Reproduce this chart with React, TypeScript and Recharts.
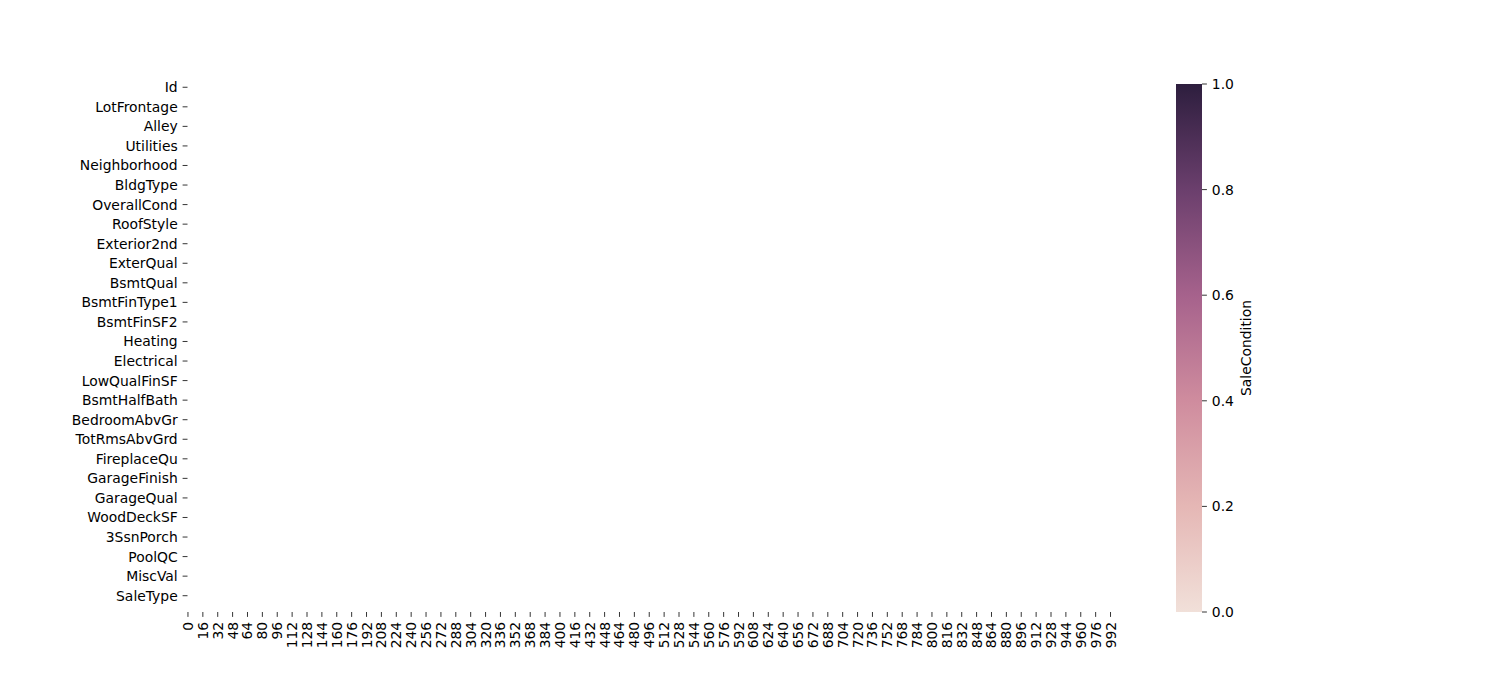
import React from "react";
import {
  ScatterChart,
  Scatter,
  XAxis,
  YAxis,
  BarChart,
  Bar,
} from "recharts";

// row labels shown on the y axis (every third column of the frame)
const rowLabels = [
  "Id", "LotFrontage", "Alley", "Utilities", "Neighborhood", "BldgType",
  "OverallCond", "RoofStyle", "Exterior2nd", "ExterQual", "BsmtQual",
  "BsmtFinType1", "BsmtFinSF2", "Heating", "Electrical", "LowQualFinSF",
  "BsmtHalfBath", "BedroomAbvGr", "TotRmsAbvGrd", "FireplaceQu",
  "GarageFinish", "GarageQual", "WoodDeckSF", "3SsnPorch", "PoolQC",
  "MiscVal", "SaleType",
];
const labelStep = 3;
const rowCount = 81;
const colCount = 1000;

// x tick labels (row index of the frame)
const colTicks = [
  0, 16, 32, 48, 64, 80, 96, 112, 128, 144, 160, 176, 192, 208, 224, 240,
  256, 272, 288, 304, 320, 336, 352, 368, 384, 400, 416, 432, 448, 464, 480,
  496, 512, 528, 544, 560, 576, 592, 608, 624, 640, 656, 672, 688, 704, 720,
  736, 752, 768, 784, 800, 816, 832, 848, 864, 880, 896, 912, 928, 944, 960,
  976, 992,
];

// missing-value cells (none flagged)
const missingCells: { col: number; row: number }[] = [];

const colorbarTicks = [0, 0.2, 0.4, 0.6, 0.8, 1.0];
const colorbarStops = [
  { offset: 0, color: "#f1e0d9" },
  { offset: 0.2, color: "#e5b7b5" },
  { offset: 0.4, color: "#cf8c9e" },
  { offset: 0.6, color: "#a6628c" },
  { offset: 0.8, color: "#6b3f6d" },
  { offset: 1, color: "#2d1e3e" },
];
const colorbarData = [{ name: "SaleCondition", value: 1 }];

const font = "'DejaVu Sans', sans-serif";
const fs = 13.9;

const XTick = (props: any) => {
  const { x, y, payload } = props;
  return (
    <text
      x={x}
      y={y}
      transform={`rotate(-90, ${x}, ${y})`}
      textAnchor="end"
      dominantBaseline="central"
      fontFamily={font}
      fontSize={fs}
      fill="#000"
    >
      {payload.value - 0.5}
    </text>
  );
};

const App = () => {
  const yTicks = rowLabels.map((_, i) => i * labelStep + 0.5);
  const xTicks = colTicks.map((t) => t + 0.5);

  return (
    <div style={{ position: "absolute", left: 0, top: 0, width: 1500, height: 700, background: "#fff" }}>
      <div style={{ position: "absolute", left: 0, top: 0 }}>
        <ScatterChart
          width={1500}
          height={700}
          margin={{ top: 84, right: 382.5, left: 7.5, bottom: 8 }}
        >
          <XAxis
            type="number"
            dataKey="col"
            domain={[0, colCount]}
            ticks={xTicks}
            interval={0}
            allowDataOverflow
            axisLine={false}
            tickLine={{ stroke: "#000", strokeWidth: 0.8 }}
            tickSize={4.9}
            tickMargin={4.9}
            height={80}
            tick={<XTick />}
          />
          <YAxis
            type="number"
            dataKey="row"
            domain={[0, rowCount]}
            reversed
            ticks={yTicks}
            interval={0}
            allowDataOverflow
            axisLine={false}
            tickLine={{ stroke: "#000", strokeWidth: 0.8 }}
            tickSize={4.9}
            tickMargin={4.9}
            width={180}
            tickFormatter={(v: number) => rowLabels[Math.round((v - 0.5) / labelStep)]}
            tick={{ fontFamily: font, fontSize: fs, fill: "#000" }}
          />
          <Scatter data={missingCells} fill="#2d1e3e" isAnimationActive={false} />
        </ScatterChart>
      </div>
      <div style={{ position: "absolute", left: 0, top: 0 }}>
        <BarChart
          width={1500}
          height={700}
          data={colorbarData}
          barCategoryGap="0%"
          margin={{ top: 84, right: 238, left: 1176, bottom: 88 }}
        >
          <defs>
            <linearGradient id="cbar" x1="0" y1="1" x2="0" y2="0">
              {colorbarStops.map((s) => (
                <stop key={s.offset} offset={`${s.offset * 100}%`} stopColor={s.color} />
              ))}
            </linearGradient>
          </defs>
          <XAxis dataKey="name" hide />
          <YAxis
            orientation="right"
            type="number"
            domain={[0, 1]}
            ticks={colorbarTicks}
            interval={0}
            axisLine={false}
            tickLine={{ stroke: "#000", strokeWidth: 0.8 }}
            tickSize={4.9}
            tickMargin={4.9}
            width={60}
            tickFormatter={(v: number) => v.toFixed(1)}
            tick={{ fontFamily: font, fontSize: fs, fill: "#000" }}
            label={{
              content: (p: any) => {
                const vb = p.viewBox;
                const cx = vb.x + 44;
                const cy = vb.y + vb.height / 2;
                return (
                  <text
                    x={cx}
                    y={cy}
                    transform={`rotate(-90, ${cx}, ${cy})`}
                    textAnchor="middle"
                    dominantBaseline="central"
                    fontFamily={font}
                    fontSize={fs}
                    fill="#000"
                  >
                    SaleCondition
                  </text>
                );
              },
            }}
          />
          <Bar dataKey="value" fill="url(#cbar)" isAnimationActive={false} />
        </BarChart>
      </div>
    </div>
  );
};

export default App;
